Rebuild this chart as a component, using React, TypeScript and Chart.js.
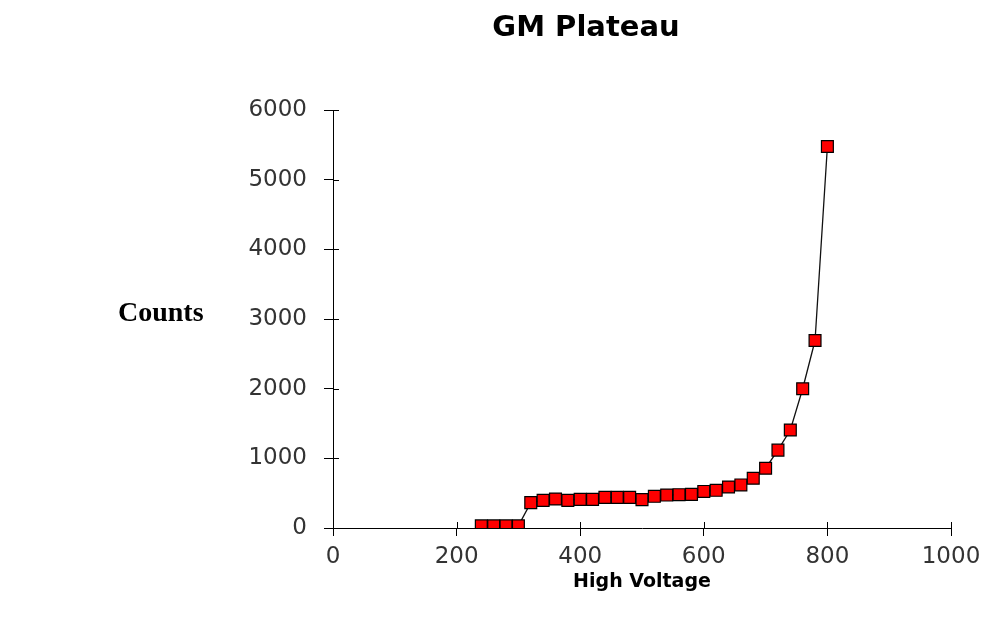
import React, { useEffect, useRef } from "react";
import { Chart, registerables } from "chart.js";

Chart.register(...registerables);

const voltages = [
  240, 260, 280, 300, 320, 340, 360, 380, 400, 420, 440, 460, 480, 500, 520,
  540, 560, 580, 600, 620, 640, 660, 680, 700, 720, 740, 760, 780, 800,
];
const counts = [
  30, 30, 30, 30, 364, 397, 416, 397, 411, 411, 440, 440, 440, 407, 455, 473,
  478, 483, 525, 541, 589, 618, 714, 858, 1118, 1407, 1999, 2691, 5476,
];
const chartTitle = "GM Plateau";
const xTitle = "High Voltage";
const yTitle = "Counts";

const textPlugin = {
  id: "extraText",
  afterDraw(chart: any) {
    const ctx = chart.ctx;
    ctx.save();
    ctx.fillStyle = "#000";
    ctx.textBaseline = "middle";
    ctx.textAlign = "center";
    ctx.font = "bold 29px 'DejaVu Sans'";
    ctx.fillText(chartTitle, 586, 28);
    ctx.textAlign = "left";
    ctx.font = "bold 28px 'Liberation Serif'";
    ctx.fillText(yTitle, 118, 314);
    ctx.restore();
  },
};

const innerTicks = {
  id: "innerTicks",
  beforeDatasetsDraw(chart: any) {
    const ctx = chart.ctx;
    const xs = chart.scales.x;
    const ys = chart.scales.y;
    const area = chart.chartArea;
    ctx.save();
    ctx.strokeStyle = "#000";
    ctx.lineWidth = 1;
    ctx.beginPath();
    ys.ticks.forEach((t: any) => {
      const y = Math.round(ys.getPixelForValue(t.value)) + 0.5;
      ctx.moveTo(area.left, y);
      ctx.lineTo(area.left + 6, y);
    });
    xs.ticks.forEach((t: any) => {
      const x = Math.round(xs.getPixelForValue(t.value)) + 0.5;
      ctx.moveTo(x, area.bottom);
      ctx.lineTo(x, area.bottom - 6);
    });
    ctx.stroke();
    ctx.restore();
  },
};

export default function App() {
  const ref = useRef<HTMLCanvasElement | null>(null);
  useEffect(() => {
    if (!ref.current) return;
    const chart = new Chart(ref.current, {
      type: "line",
      data: {
        datasets: [
          {
            data: voltages.map((v, i) => ({ x: v, y: counts[i] })),
            borderColor: "#111",
            borderWidth: 1.3,
            pointStyle: "rect",
            pointRadius: 8.4,
            pointBackgroundColor: "#ff0000",
            pointBorderColor: "#000",
            pointBorderWidth: 1.2,
            tension: 0,
          },
        ],
      },
      options: {
        animation: false,
        responsive: true,
        maintainAspectRatio: false,
        layout: { padding: { left: 0, right: 33, top: 110, bottom: 0 } },
        plugins: {
          legend: { display: false },
          tooltip: { enabled: false },
          title: { display: false },
        },
        scales: {
          x: {
            type: "linear",
            min: 0,
            max: 1000,
            afterFit: (s: any) => {
              s.height = 98;
              s.paddingRight = 0;
              s.paddingLeft = 0;
            },
            ticks: {
              stepSize: 200,
              color: "#333",
              font: { family: "'DejaVu Sans'", size: 23 },
              padding: 7,
              maxRotation: 0,
              callback: (v: any) => String(v),
            },
            grid: {
              drawOnChartArea: false,
              color: "#000",
              tickLength: 8,
            },
            border: { display: true, color: "#000", width: 1 },
            title: {
              display: true,
              text: xTitle,
              color: "#000",
              font: { family: "'DejaVu Sans'", size: 19, weight: "bold" },
              padding: { top: 0, bottom: 33 },
            },
          },
          y: {
            type: "linear",
            min: 0,
            max: 6000,
            afterFit: (s: any) => {
              s.width = 333;
            },
            ticks: {
              stepSize: 1000,
              color: "#333",
              font: { family: "'DejaVu Sans'", size: 23 },
              padding: 17,
              callback: (v: any) => String(v),
            },
            grid: {
              drawOnChartArea: false,
              color: "#000",
              tickLength: 9,
            },
            border: { display: true, color: "#000", width: 1 },
          },
        },
      },
      plugins: [textPlugin, innerTicks],
    });
    return () => chart.destroy();
  }, []);
  return (
    <div style={{ position: "fixed", left: 0, top: 0, width: 984, height: 626, background: "#fff" }}>
      <canvas ref={ref} />
    </div>
  );
}
